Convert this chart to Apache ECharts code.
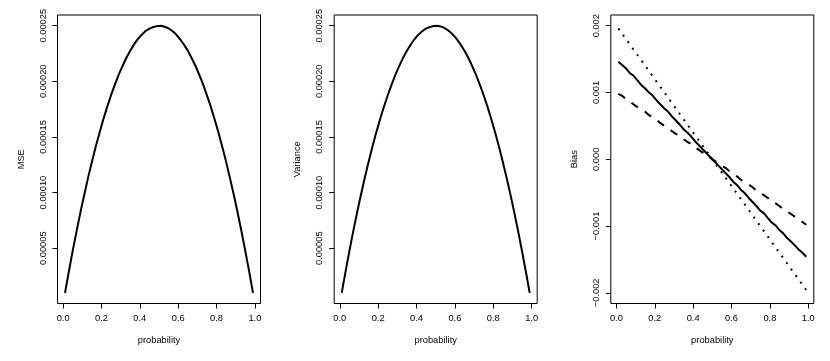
<!DOCTYPE html>
<html>
<head>
<meta charset="utf-8">
<script src="https://cdn.jsdelivr.net/npm/echarts@6.0.0/dist/echarts.min.js"></script>
<style>
  html, body { margin: 0; background: #fff; }
  #chart { width: 830px; height: 361px; }
</style>
</head>
<body>
<div id="chart"></div>
<script>
// p grid used for the simulated curves
const probability = [
  0.01, 0.03, 0.05, 0.07, 0.09, 0.11, 0.13, 0.15, 0.17, 0.19,
  0.21, 0.23, 0.25, 0.27, 0.29, 0.31, 0.33, 0.35, 0.37, 0.39,
  0.41, 0.43, 0.45, 0.47, 0.49, 0.51, 0.53, 0.55, 0.57, 0.59,
  0.61, 0.63, 0.65, 0.67, 0.69, 0.71, 0.73, 0.75, 0.77, 0.79,
  0.81, 0.83, 0.85, 0.87, 0.89, 0.91, 0.93, 0.95, 0.97, 0.99
];

const mse = [
  9.9e-6, 2.91e-5, 4.76e-5, 6.50e-5, 8.20e-5, 9.78e-5, 1.132e-4, 1.274e-4, 1.412e-4, 1.538e-4,
  1.660e-4, 1.770e-4, 1.876e-4, 1.970e-4, 2.060e-4, 2.138e-4, 2.212e-4, 2.274e-4, 2.332e-4, 2.381e-4,
  2.418e-4, 2.452e-4, 2.474e-4, 2.488e-4, 2.496e-4, 2.500e-4, 2.490e-4, 2.476e-4, 2.452e-4, 2.420e-4,
  2.378e-4, 2.330e-4, 2.276e-4, 2.210e-4, 2.140e-4, 2.058e-4, 1.972e-4, 1.874e-4, 1.772e-4, 1.658e-4,
  1.540e-4, 1.410e-4, 1.276e-4, 1.130e-4, 9.80e-5, 8.18e-5, 6.52e-5, 4.74e-5, 2.92e-5, 9.9e-6
];

const variance = [
  9.8e-6, 2.90e-5, 4.75e-5, 6.51e-5, 8.19e-5, 9.79e-5, 1.131e-4, 1.275e-4, 1.411e-4, 1.539e-4,
  1.659e-4, 1.771e-4, 1.875e-4, 1.971e-4, 2.059e-4, 2.139e-4, 2.211e-4, 2.275e-4, 2.331e-4, 2.380e-4,
  2.419e-4, 2.451e-4, 2.475e-4, 2.489e-4, 2.497e-4, 2.499e-4, 2.491e-4, 2.475e-4, 2.451e-4, 2.419e-4,
  2.379e-4, 2.331e-4, 2.275e-4, 2.211e-4, 2.139e-4, 2.059e-4, 1.971e-4, 1.875e-4, 1.771e-4, 1.659e-4,
  1.539e-4, 1.411e-4, 1.275e-4, 1.131e-4, 9.79e-5, 8.19e-5, 6.51e-5, 4.75e-5, 2.91e-5, 9.8e-6
];

const biasSolid = [
  0.00146, 0.00141, 0.00136, 0.00129, 0.00125, 0.00118, 0.00111, 0.00106, 0.00100, 0.00095,
  0.00088, 0.00082, 0.00076, 0.00071, 0.00064, 0.00058, 0.00052, 0.00045, 0.00040, 0.00034,
  0.00027, 0.00021, 0.00015, 0.00009, 0.00003, -0.00003, -0.00009, -0.00015, -0.00021, -0.00027,
  -0.00034, -0.00039, -0.00046, -0.00051, -0.00058, -0.00064, -0.00070, -0.00077, -0.00081, -0.00088,
  -0.00095, -0.00099, -0.00106, -0.00111, -0.00118, -0.00123, -0.00129, -0.00135, -0.00140, -0.00146
];

const biasDashed = [
  0.00098, 0.00095, 0.00090, 0.00087, 0.00082, 0.00078, 0.00075, 0.00071, 0.00066, 0.00062,
  0.00059, 0.00054, 0.00050, 0.00047, 0.00042, 0.00038, 0.00035, 0.00030, 0.00026, 0.00023,
  0.00018, 0.00014, 0.00010, 0.00006, 0.00002, -0.00002, -0.00006, -0.00010, -0.00013, -0.00018,
  -0.00022, -0.00026, -0.00031, -0.00034, -0.00038, -0.00042, -0.00047, -0.00050, -0.00054, -0.00058,
  -0.00063, -0.00066, -0.00070, -0.00075, -0.00078, -0.00082, -0.00086, -0.00090, -0.00094, -0.00098
];

// the dotted reference line is straight
const biasDottedX = [0.01, 0.99];
const biasDotted = [0.00196, -0.00196];

const xTicks = [0, 0.2, 0.4, 0.6, 0.8, 1];
const xTickLabels = ["0.0", "0.2", "0.4", "0.6", "0.8", "1.0"];
const errTicks = [0.00005, 0.0001, 0.00015, 0.0002, 0.00025];
const errTickLabels = ["0.00005", "0.00010", "0.00015", "0.00020", "0.00025"];
const biasTicks = [-0.002, -0.001, 0, 0.001, 0.002];
const biasTickLabels = ["\u22120.002", "\u22120.001", "0.000", "0.001", "0.002"];

const FONT = "Liberation Sans";
const FS = 9.3;

function labelFor(ticks, labels) {
  return v => {
    for (let i = 0; i < ticks.length; i++) {
      if (Math.abs(v - ticks[i]) < 1e-9) return labels[i];
    }
    return "";
  };
}

const panelLefts = [57.5, 334.2, 610.8];
const grids = panelLefts.map(l => ({
  left: l, top: 15, width: 203, height: 288.5,
  show: true, borderColor: "#000", borderWidth: 1, backgroundColor: "transparent"
}));

function xAxisFor(i) {
  return {
    gridIndex: i, type: "value", min: -0.0292, max: 1.0292,
    name: "probability", nameLocation: "middle", nameGap: 32,
    nameTextStyle: { fontFamily: FONT, fontSize: FS, color: "#000" },
    splitLine: { show: false },
    axisLine: { show: false, onZero: false },
    axisTick: { show: true, customValues: xTicks, length: 5, lineStyle: { color: "#000", width: 1 } },
    axisLabel: {
      customValues: xTicks, formatter: labelFor(xTicks, xTickLabels),
      margin: 10, fontFamily: FONT, fontSize: FS, color: "#000"
    }
  };
}

function yAxisFor(i, name, min, max, ticks, labels) {
  return {
    gridIndex: i, type: "value", min: min, max: max,
    name: name, nameLocation: "middle", nameGap: 32, nameRotate: 90,
    nameTextStyle: { fontFamily: FONT, fontSize: FS, color: "#000" },
    splitLine: { show: false },
    axisLine: { show: false, onZero: false },
    axisTick: { show: true, customValues: ticks, length: 5, lineStyle: { color: "#000", width: 1 } },
    axisLabel: {
      customValues: ticks, formatter: labelFor(ticks, labels), rotate: 90,
      margin: 10, fontFamily: FONT, fontSize: FS, color: "#000"
    }
  };
}

function pairs(xs, ys) {
  return xs.map((x, k) => [x, ys[k]]);
}

function lineSeries(i, xs, ys, type) {
  return {
    type: "line", xAxisIndex: i, yAxisIndex: i,
    data: pairs(xs, ys), showSymbol: false, symbol: "none",
    lineStyle: { color: "#000", width: 2, type: type, cap: "butt" },
    silent: true
  };
}

const chart = echarts.init(document.getElementById("chart"), null, { renderer: "canvas" });
chart.setOption({
  animation: false,
  backgroundColor: "#fff",
  grid: grids,
  xAxis: [xAxisFor(0), xAxisFor(1), xAxisFor(2)],
  yAxis: [
    yAxisFor(0, "MSE", 3e-7, 2.596e-4, errTicks, errTickLabels),
    yAxisFor(1, "Variance", 3e-7, 2.596e-4, errTicks, errTickLabels),
    yAxisFor(2, "Bias", -0.00216, 0.00216, biasTicks, biasTickLabels)
  ],
  series: [
    lineSeries(0, probability, mse, "solid"),
    lineSeries(1, probability, variance, "solid"),
    lineSeries(2, probability, biasSolid, "solid"),
    lineSeries(2, probability, biasDashed, [8, 8]),
    lineSeries(2, biasDottedX, biasDotted, [2, 6])
  ]
});
</script>
</body>
</html>
